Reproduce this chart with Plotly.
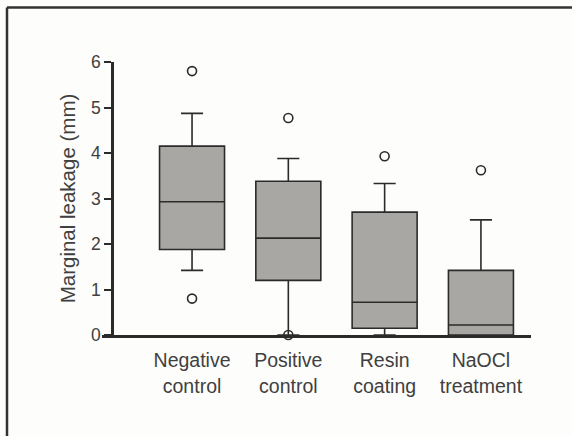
import plotly.graph_objects as go

categories = ["Negative<br>control", "Positive<br>control", "Resin<br>coating", "NaOCl<br>treatment"]
q1 = [1.88, 1.20, 0.15, 0.00]
median = [2.93, 2.13, 0.72, 0.22]
q3 = [4.15, 3.38, 2.70, 1.42]
lower_whisker = [1.42, 0.00, 0.00, 0.00]
upper_whisker = [4.87, 3.88, 3.33, 2.53]
outlier_x = [0, 0, 1, 1, 2, 2, 3, 3]
outlier_y = [5.80, 0.80, 4.77, 0.00, 3.93, -0.03, 3.62, -0.01]
y_ticks = [0, 1, 2, 3, 4, 5, 6]

W, H = 572, 436
L, R, T, B = 102, 531, 62, 335
line_col = "#2b2b2b"
fill_col = "#a9a7a3"
text_col = "#404040"
font_fam = "Liberation Sans, Arial, sans-serif"

fig = go.Figure()
for i in range(len(categories)):
    fig.add_trace(go.Box(
        x=[i], q1=[q1[i]], median=[median[i]], q3=[q3[i]],
        lowerfence=[lower_whisker[i]], upperfence=[upper_whisker[i]],
        boxpoints=False, width=0.675, whiskerwidth=0.34,
        fillcolor=fill_col, line=dict(color=line_col, width=1.6),
        showlegend=False, hoverinfo="skip",
    ))

fig.add_trace(go.Scatter(
    x=outlier_x, y=outlier_y, mode="markers", cliponaxis=False,
    marker=dict(symbol="circle-open", size=9, color=line_col, line=dict(width=1.6, color=line_col)),
    showlegend=False, hoverinfo="skip",
))

x_lo = -0.935
x_hi = 3.52
y_pos = (112 - L) / (R - L)

fig.update_layout(
    width=W, height=H,
    margin=dict(l=L, r=W - R, t=T, b=H - B, pad=0),
    paper_bgcolor="#fdfdfb", plot_bgcolor="rgba(0,0,0,0)",
    font=dict(family=font_fam, color=text_col),
    xaxis=dict(
        range=[x_lo, x_hi], tickmode="array", tickvals=list(range(len(categories))),
        ticktext=categories, showline=True, linecolor=line_col, linewidth=2.6,
        ticks="", showgrid=False, zeroline=False, tickfont=dict(size=19.5, color=text_col),
        ticklabelstandoff=6, fixedrange=True,
    ),
    yaxis=dict(
        range=[0, 6], tickvals=y_ticks, showline=True, linecolor=line_col, linewidth=2.6,
        ticks="outside", ticklen=7, tickwidth=2, tickcolor=line_col,
        showgrid=False, zeroline=False, anchor="free", position=y_pos,
        tickfont=dict(size=17.5, color=text_col),
        title=dict(text="Marginal leakage (mm)", font=dict(size=20.5, color=text_col), standoff=8),
    ),
)

# outer frame (top and left edges of the scanned figure box)
fx = (7 - L) / (R - L)
fy = (B - 7.5) / (B - T)
fig.add_shape(type="line", xref="paper", yref="paper", x0=fx, y0=fy, x1=(W + 20 - L) / (R - L), y1=fy,
              line=dict(color="#333", width=2.5))
fig.add_shape(type="line", xref="paper", yref="paper", x0=fx, y0=fy, x1=fx, y1=-(H + 20 - B) / (B - T),
              line=dict(color="#333", width=2.5))

fig.write_html("out.html")
